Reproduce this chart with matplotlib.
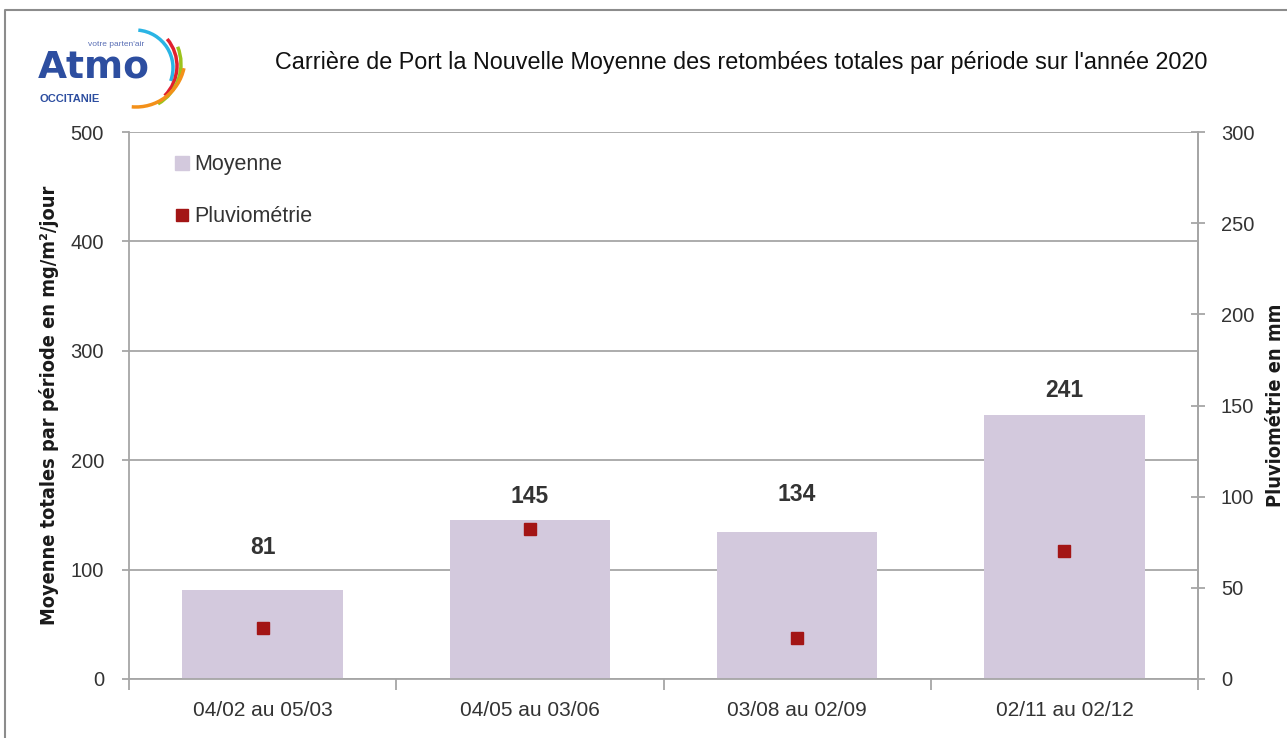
import matplotlib
matplotlib.use("Agg")
import matplotlib.pyplot as plt
from matplotlib.lines import Line2D
from matplotlib.patches import Arc
from matplotlib import font_manager as fm
import numpy as np

categories = ["04/02 au 05/03", "04/05 au 03/06", "03/08 au 02/09", "02/11 au 02/12"]
moyenne = [81, 145, 134, 241]
pluviometrie = [28, 82, 22.5, 70]
label_y = [120, 167, 169, 264]

title = "Carrière de Port la Nouvelle Moyenne des retombées totales par période sur l'année 2020"
ylabel_left = "Moyenne totales par période en mg/m²/jour"
ylabel_right = "Pluviométrie en mm"

plt.rcParams['font.family'] = ['Liberation Sans', 'DejaVu Sans']

# look for a condensed bold face for the axis titles
narrow_fp = None
for f in fm.fontManager.ttflist:
    st = str(f.stretch).lower()
    if ('condensed' in st or 'narrow' in f.name.lower()) and f.weight in ('bold', 700, 'semibold', 600):
        if narrow_fp is None or 'liberation' in f.name.lower():
            narrow_fp = f
if narrow_fp is not None:
    axis_font = dict(fontproperties=fm.FontProperties(fname=narrow_fp.fname, size=14.3))
else:
    axis_font = dict(fontsize=14, fontweight='bold')

W, H = 1287, 738
fig = plt.figure(figsize=(W / 100, H / 100), dpi=100)
ax = fig.add_axes([129 / W, 1 - 679 / H, (1198 - 129) / W, (679 - 132) / H])
ax2 = ax.twinx()

grid_c = "#a6a6a6"
txt_c = "#333333"
bar_c = "#d3c9dd"
mk_c = "#a31515"

x = np.arange(len(categories))
ax.bar(x, moyenne, width=0.6, color=bar_c, zorder=2, label="Moyenne")
ax.set_xlim(-0.5, len(categories) - 0.5)
ax.set_ylim(0, 500)
ax.set_yticks(np.arange(0, 501, 100))
ax.yaxis.grid(True, color=grid_c, linewidth=1.3, zorder=0)
ax.set_axisbelow(True)
ax.set_xticks(x)
ax.set_xticklabels(categories, fontsize=15, color=txt_c)
ax.set_xticks(np.arange(-0.5, len(categories), 1.0), minor=True)
ax.tick_params(axis='x', which='major', length=0, pad=16)
ax.tick_params(axis='x', which='minor', length=8, color=grid_c, width=1.3)
ax.tick_params(axis='y', length=5, color=grid_c, width=1.3, labelsize=14.5, labelcolor=txt_c, pad=13)
ax.spines["top"].set_visible(False)
for s in ["left", "bottom", "right"]:
    ax.spines[s].set_color(grid_c)
    ax.spines[s].set_linewidth(1.3)

for xi, v, ly in zip(x, moyenne, label_y):
    ax.text(xi, ly, str(v), ha='center', va='center', fontsize=16.5,
            fontweight='bold', color=txt_c, zorder=5)

ax.set_ylabel(ylabel_left, color='#1a1a1a', labelpad=8, **axis_font)

ax2.plot(x, pluviometrie, linestyle='none', marker='s', markersize=9,
         color=mk_c, markeredgecolor=mk_c, zorder=6, label="Pluviométrie")
ax2.set_ylim(0, 300)
ax2.set_yticks(np.arange(0, 301, 50))
ax2.tick_params(axis='y', direction='inout', length=10, color=grid_c, width=1.3,
                labelsize=14.5, labelcolor=txt_c, pad=11.5)
for s in ["top", "left", "bottom"]:
    ax2.spines[s].set_visible(False)
ax2.spines["right"].set_color(grid_c)
ax2.spines["right"].set_linewidth(1.3)
ax2.set_ylabel(ylabel_right, color='#1a1a1a', labelpad=8, **axis_font)

handles = [
    Line2D([0], [0], linestyle='none', marker='s', markersize=10, color=bar_c),
    Line2D([0], [0], linestyle='none', marker='s', markersize=9, color=mk_c),
]
leg = ax.legend(handles, ["Moyenne", "Pluviométrie"], loc='upper left',
                bbox_to_anchor=(0.026, 0.995), frameon=False, fontsize=15.5,
                handlelength=0.5, handletextpad=0.35, labelspacing=1.45)
for t in leg.get_texts():
    t.set_color(txt_c)

fig.text(741 / W, 1 - 63 / H, title, ha='center', va='center', fontsize=16.8, color='#111111')

# figure border
fig.add_artist(Line2D([5 / W, 5 / W, 1.0], [0, 1 - 10 / H, 1 - 10 / H],
                      transform=fig.transFigure, color='#8c8c8c', linewidth=1.5))

# logo
fig.text(38 / W, 1 - 78 / H, "Atmo", fontsize=27, fontweight='bold', color='#2d4ea0',
         ha='left', va='baseline', family=['DejaVu Sans'])
fig.text(40 / W, 1 - 99 / H, "OCCITANIE", fontsize=8, fontweight='bold', color='#2d4ea0',
         ha='left', va='center')
fig.text(88 / W, 1 - 44 / H, "votre parten'air", fontsize=6, color='#5a6fb5',
         ha='left', va='center')
lax = fig.add_axes([60 / W, 1 - 120 / H, 140 / W, 100 / H])
lax.set_xlim(60, 200); lax.set_ylim(-120, -20); lax.axis('off')
for (cx, cy, r, th1, th2, c) in [(135, -68, 38, -20, 85, '#2ab4e4'),
                                  (135, -66, 42, -45, 40, '#e0202e'),
                                  (135, -64, 46, -60, 22, '#9cc31c'),
                                  (136, -58, 49, -95, -12, '#f39019')]:
    lax.add_patch(Arc((cx, cy), 2 * r, 2 * r, theta1=th1, theta2=th2, color=c, linewidth=2.5))

fig.savefig("out.png", dpi=100)
